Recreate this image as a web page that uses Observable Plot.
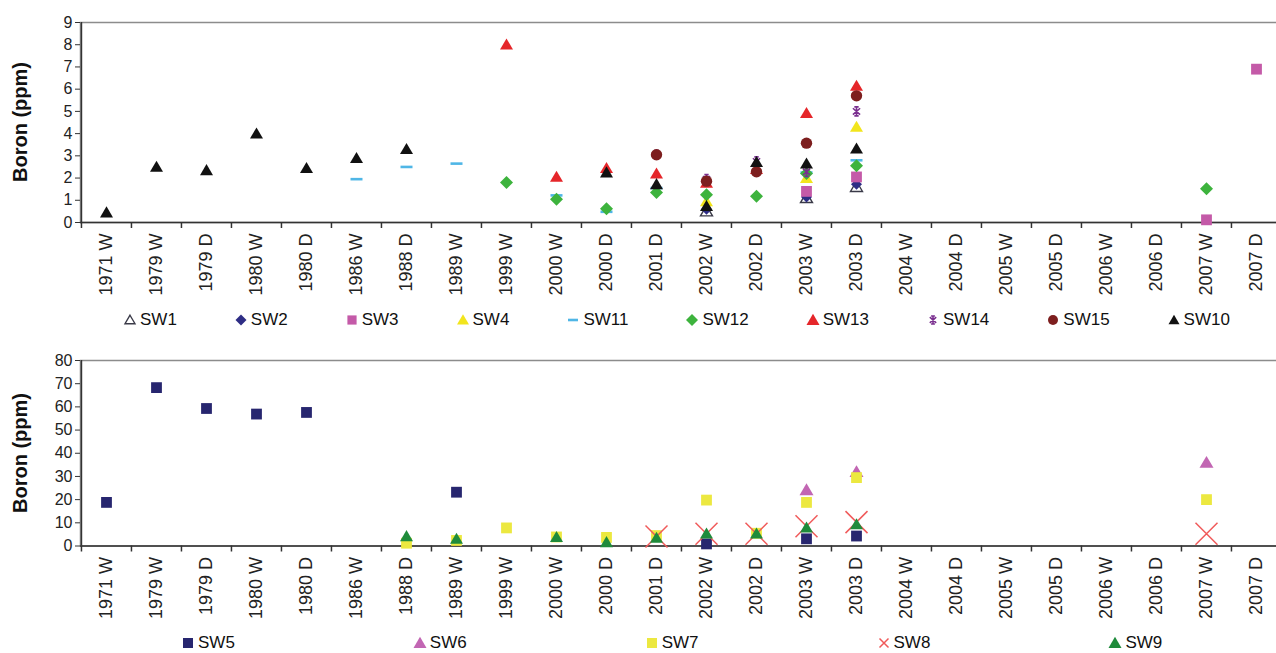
<!DOCTYPE html>
<html><head><meta charset="utf-8">
<script src="https://cdn.jsdelivr.net/npm/d3@7"></script>
<script src="https://cdn.jsdelivr.net/npm/@observablehq/plot@0.6"></script>
<style>
html,body{margin:0;padding:0;background:#fff;overflow:hidden;width:1276px;height:653px;}
#wrap{position:relative;width:1276px;height:653px;font-family:"Liberation Sans",Arial,sans-serif;color:#222;overflow:hidden;}
.chart{position:absolute;left:0;}
.ytitle{position:absolute;font-weight:bold;font-size:20px;line-height:1;white-space:nowrap;transform:translate(-50%,-50%) rotate(-90deg);color:#111;}
.legend{position:absolute;display:flex;align-items:center;font-size:17px;line-height:22px;white-space:nowrap;color:#111;}
.legend .item{display:flex;align-items:center;}
.legend svg{display:block;margin-right:3px;}
</style></head><body><div id="wrap"></div>
<script>
// ---- categories (x axis) ----
const categories = ["1971 W","1979 W","1979 D","1980 W","1980 D","1986 W","1988 D","1989 W","1999 W","2000 W","2000 D","2001 D","2002 W","2002 D","2003 W","2003 D","2004 W","2004 D","2005 W","2005 D","2006 W","2006 D","2007 W","2007 D"];

// ---- top chart series (Boron ppm) ----
const SW1 = [["2002 W",0.5],["2003 W",1.1],["2003 D",1.6]];
const SW2 = [["2002 W",0.6],["2003 W",1.15],["2003 D",1.72]];
const SW3 = [["2003 W",1.4],["2003 D",2.05],["2007 W",0.12],["2007 D",6.9]];
const SW4 = [["2002 W",0.95],["2003 W",2.0],["2003 D",4.3]];
const SW11 = [["1986 W",1.95],["1988 D",2.5],["1989 W",2.65],["2000 W",1.22],["2000 D",0.48],["2001 D",1.55],["2003 W",2.25],["2003 D",2.8]];
const SW12 = [["1999 W",1.8],["2000 W",1.05],["2000 D",0.62],["2001 D",1.35],["2002 W",1.25],["2002 D",1.18],["2003 W",2.2],["2003 D",2.55],["2007 W",1.52]];
const SW13 = [["1999 W",8.0],["2000 W",2.05],["2000 D",2.45],["2001 D",2.2],["2002 W",1.78],["2002 D",2.4],["2003 W",4.92],["2003 D",6.15]];
const SW14 = [["2001 D",3.05],["2002 W",1.95],["2002 D",2.75],["2003 W",2.28],["2003 D",5.0]];
const SW15 = [["2001 D",3.05],["2002 W",1.86],["2002 D",2.28],["2003 W",3.57],["2003 D",5.7]];
const SW10 = [["1971 W",0.45],["1979 W",2.5],["1979 D",2.35],["1980 W",4.0],["1980 D",2.45],["1986 W",2.9],["1988 D",3.3],["2000 D",2.25],["2001 D",1.72],["2002 W",0.74],["2002 D",2.72],["2003 W",2.65],["2003 D",3.32]];

// ---- bottom chart series (Boron ppm) ----
const SW5 = [["1971 W",18.8],["1979 W",68.3],["1979 D",59.3],["1980 W",56.9],["1980 D",57.6],["1989 W",23.2],["2002 W",0.9],["2003 W",3.1],["2003 D",4.3]];
const SW6 = [["2003 W",24.2],["2003 D",32.0],["2007 W",36.0]];
const SW7 = [["1988 D",1.2],["1989 W",2.4],["1999 W",7.8],["2000 W",3.9],["2000 D",3.7],["2001 D",4.5],["2002 W",19.8],["2002 D",5.5],["2003 W",18.8],["2003 D",29.5],["2007 W",20.0]];
const SW8 = [["2001 D",4.1],["2002 W",5.3],["2002 D",5.3],["2003 W",8.5],["2003 D",10.3],["2007 W",5.3]];
const SW9 = [["1988 D",4.2],["1989 W",3.1],["2000 W",3.8],["2000 D",1.6],["2001 D",3.5],["2002 W",5.3],["2002 D",5.3],["2003 W",7.9],["2003 D",9.3]];

const topTicks = [0,1,2,3,4,5,6,7,8,9];
const bottomTicks = [0,10,20,30,40,50,60,70,80];

// ---- marker shapes ----
const R = s => Math.sqrt(s / Math.PI);
const sym = {
  triangle: {draw(c,s){const r=R(s);c.moveTo(0,-0.95*r);c.lineTo(r,0.75*r);c.lineTo(-r,0.75*r);c.closePath();}},
  square: {draw(c,s){const r=R(s);c.rect(-r,-r,2*r,2*r);}},
  diamond: {draw(c,s){const r=R(s);c.moveTo(0,-r);c.lineTo(r,0);c.lineTo(0,r);c.lineTo(-r,0);c.closePath();}},
  dash: {draw(c,s){const r=R(s);c.rect(-r,-1.3,2*r,2.6);}},
  circle: {draw(c,s){const r=R(s);c.moveTo(r,0);c.arc(0,0,r,0,2*Math.PI);}},
  times: {draw(c,s){const r=R(s);c.moveTo(-r,-r);c.lineTo(r,r);c.moveTo(r,-r);c.lineTo(-r,r);}},
  asterisk: {draw(c,s){const r=R(s);const h=r*1.25;c.moveTo(0,-h);c.lineTo(0,h);c.moveTo(-r,-h*0.7);c.lineTo(r,h*0.7);c.moveTo(r,-h*0.7);c.lineTo(-r,h*0.7);c.moveTo(-r*0.6,-h);c.lineTo(r*0.6,-h);c.moveTo(-r*0.6,h);c.lineTo(r*0.6,h);}}
};

const topSeries = [
  {name:"SW1", data:SW1, shape:"triangle", r:6, fill:"#ffffff", stroke:"#3a3a48", sw:1.4, lr:5},
  {name:"SW2", data:SW2, shape:"diamond", r:5.5, fill:"#2e2d85", stroke:"none", sw:0, lr:5.5},
  {name:"SW3", data:SW3, shape:"square", r:5.4, fill:"#c45aa8", stroke:"none", sw:0, lr:4.6},
  {name:"SW4", data:SW4, shape:"triangle", r:6.5, fill:"#f2e51d", stroke:"none", sw:0, lr:6},
  {name:"SW11", data:SW11, shape:"dash", r:6, fill:"#4fb6e6", stroke:"none", sw:0, lr:5},
  {name:"SW12", data:SW12, shape:"diamond", r:6.5, fill:"#3db33d", stroke:"none", sw:0, lr:6},
  {name:"SW13", data:SW13, shape:"triangle", r:6.5, fill:"#e5262a", stroke:"none", sw:0, lr:6.5},
  {name:"SW14", data:SW14, shape:"asterisk", r:3.6, fill:"none", stroke:"#7a2f8f", sw:1.6, lr:3.2},
  {name:"SW15", data:SW15, shape:"circle", r:5.7, fill:"#7d1e1e", stroke:"none", sw:0, lr:5},
  {name:"SW10", data:SW10, shape:"triangle", r:6.5, fill:"#111111", stroke:"none", sw:0, lr:5.5}
];
const bottomSeries = [
  {name:"SW5", data:SW5, shape:"square", r:5.4, fill:"#27266f", stroke:"none", sw:0, lr:5},
  {name:"SW6", data:SW6, shape:"triangle", r:7, fill:"#c266b3", stroke:"none", sw:0, lr:6.5},
  {name:"SW7", data:SW7, shape:"square", r:5.4, fill:"#ece840", stroke:"none", sw:0, lr:5},
  {name:"SW8", data:SW8, shape:"times", r:11, fill:"none", stroke:"#f05a5a", sw:1.5, lr:4.5},
  {name:"SW9", data:SW9, shape:"triangle", r:6.5, fill:"#1f8b3b", stroke:"none", sw:0, lr:6.5}
];

const W = 1284, ML = 80, MR = 2;
const bw = (W - ML - MR) / categories.length;

function chart(series, yDomain, yTicks, height, marginTop, marginBottom) {
  return Plot.plot({
    width: W, height, marginLeft: ML, marginRight: MR, marginTop, marginBottom,
    style: {fontFamily: "Liberation Sans, Arial, sans-serif", color: "#222", background: "transparent", overflow: "visible", maxWidth: "none", width: W + "px", height: height + "px"},
    x: {type: "band", domain: categories, padding: 0, label: null},
    y: {domain: yDomain, label: null},
    marks: [
      Plot.frame({stroke: "#8c8c8c", strokeWidth: 1.5}),
      Plot.axisY({ticks: yTicks, tickSize: 5, tickPadding: 3, fontSize: 16, label: null, stroke: "#333"}),
      Plot.axisX({tickSize: 0, tickPadding: 11, tickRotate: -90, fontSize: 18, label: null}),
      Plot.ruleX(categories, {x: d => d, dx: -bw/2, y1: yDomain[0], y2: yDomain[0], insetBottom: -6, stroke: "#333", strokeWidth: 1.5}),
      Plot.ruleX([categories[0]], {x: d => d, dx: -bw/2, stroke: "#333", strokeWidth: 1.5}),
      Plot.ruleY([yDomain[0]], {stroke: "#333", strokeWidth: 1.5}),
      ...series.map(s => Plot.dot(s.data, {
        x: d => d[0], y: d => d[1], symbol: sym[s.shape], r: s.r,
        fill: s.fill, stroke: s.stroke, strokeWidth: s.sw
      }))
    ]
  });
}

function legend(series, left, top, gap) {
  const div = document.createElement("div");
  div.className = "legend";
  div.style.left = left + "px";
  div.style.top = top + "px";
  series.forEach((s, i) => {
    const item = document.createElement("div");
    item.className = "item";
    if (i < series.length - 1) item.style.marginRight = gap + "px";
    const svg = d3.create("svg").attr("width", 14).attr("height", 16);
    svg.append("path")
      .attr("transform", "translate(7,8)")
      .attr("d", d3.symbol().type(sym[s.shape]).size(Math.PI * s.lr * s.lr)())
      .attr("fill", s.fill).attr("stroke", s.stroke).attr("stroke-width", s.sw || 0);
    item.appendChild(svg.node());
    const t = document.createElement("span");
    t.textContent = s.name;
    item.appendChild(t);
    div.appendChild(item);
  });
  return div;
}

const wrap = document.getElementById("wrap");
const top1 = chart(topSeries, [0, 9], topTicks, 300, 22, 78);
top1.classList.add("chart"); top1.style.top = "0px";
wrap.appendChild(top1);
const bot = chart(bottomSeries, [0, 80], bottomTicks, 290, 22, 82.5);
bot.classList.add("chart"); bot.style.top = "338px";
wrap.appendChild(bot);

for (const [cy] of [[122],[453]]) {
  const t = document.createElement("div");
  t.className = "ytitle";
  t.textContent = "Boron (ppm)";
  t.style.left = "20px"; t.style.top = cy + "px";
  wrap.appendChild(t);
}
wrap.appendChild(legend(topSeries, 123, 309, 57));
wrap.appendChild(legend(bottomSeries, 181, 632, 178));
</script></body></html>
